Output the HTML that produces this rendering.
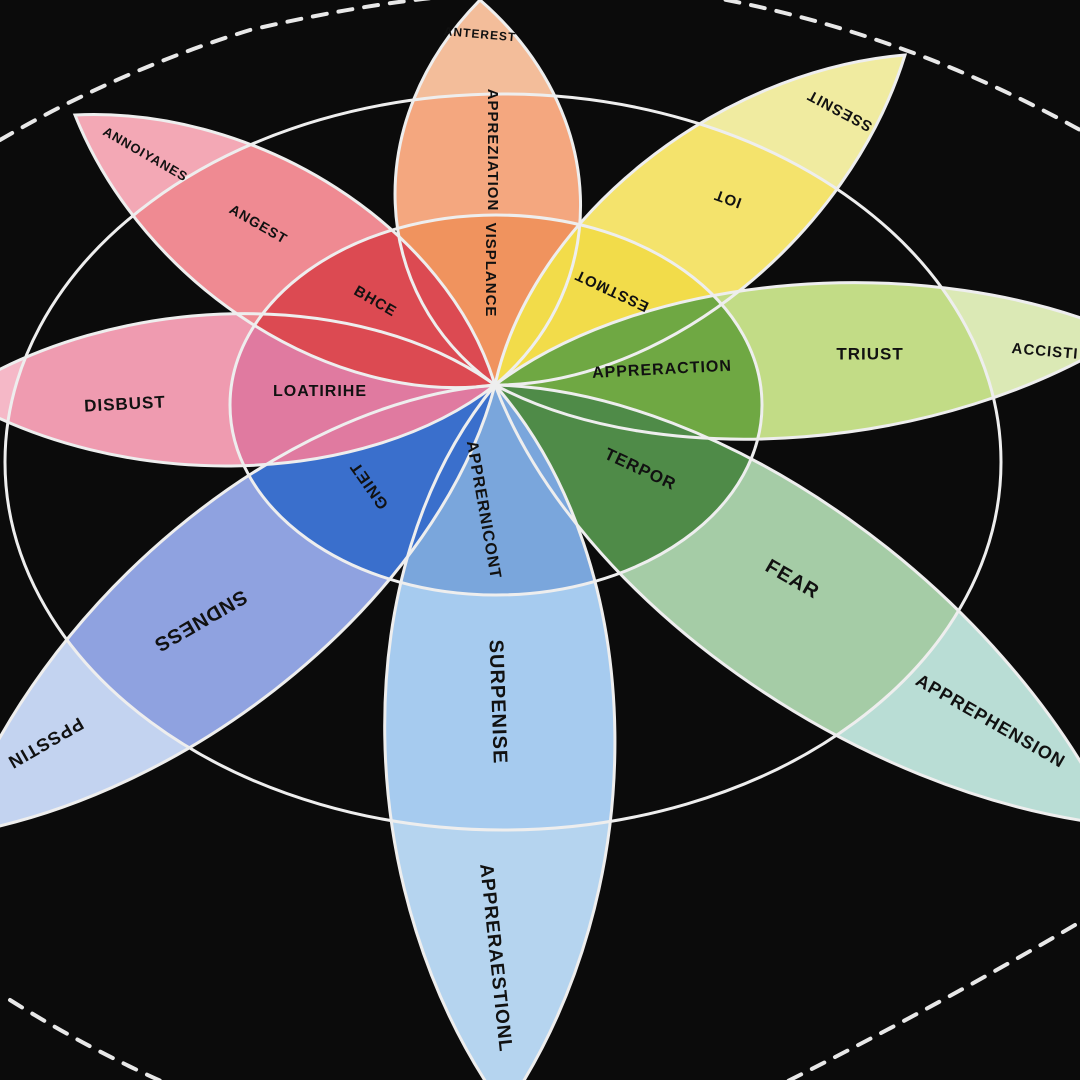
<!DOCTYPE html>
<html><head><meta charset="utf-8"><style>
html,body{margin:0;padding:0;background:#0b0b0b;}
svg{display:block}
text{font-family:"Liberation Sans",sans-serif;font-weight:bold;fill:#111;text-anchor:middle;dominant-baseline:middle;letter-spacing:1px}
</style></head><body>
<svg id="s" width="1080" height="1080" viewBox="0 0 1080 1080">
<rect width="1080" height="1080" fill="#0b0b0b"/>
<defs>
<clipPath id="cin"><ellipse cx="496" cy="405" rx="266" ry="190"/></clipPath>
<clipPath id="cout"><ellipse cx="503" cy="462" rx="498" ry="368"/></clipPath>
</defs>
<g fill="none" stroke="#e8e8e8" stroke-width="4" stroke-dasharray="14 12" stroke-linecap="round">
<path d="M0 140 Q120 70 250 30 Q380 0 470 -5"/>
<path d="M700 -5 Q900 30 1080 130"/>
<path d="M10 1000 Q90 1050 170 1085"/>
<path d="M1075 925 Q930 1010 780 1085"/>
</g>
<g id="petals"></g>
<ellipse cx="496" cy="405" rx="266" ry="190" fill="none" stroke="#eee" stroke-width="3"/>
<ellipse cx="503" cy="462" rx="498" ry="368" fill="none" stroke="#eee" stroke-width="3"/>
<g id="outl"></g>
<g font-size="15">
<text transform="translate(480,35) rotate(5)" font-size="12">ANTEREST</text>
<text transform="translate(492,150) rotate(90)">APPREZIATION</text>
<text transform="translate(490,270) rotate(90)">VISPLANCE</text>
<text transform="translate(840,110) rotate(208)">SSESNIT</text>
<text transform="translate(728,198) rotate(200)">IOT</text>
<text transform="translate(612,290) rotate(205)">ESSTMOT</text>
<text transform="translate(662,370) rotate(-3)" font-size="16">APPRERACTION</text>
<text transform="translate(870,355)" font-size="17">TRIUST</text>
<text transform="translate(1045,352) rotate(5)" font-size="15">ACCISTI</text>
<text transform="translate(640,470) rotate(25)" font-size="17">TERPOR</text>
<text transform="translate(792,580) rotate(30)" font-size="20">FEAR</text>
<text transform="translate(990,722) rotate(30)" font-size="18">APPREPHENSION</text>
<text transform="translate(483,510) rotate(80)" font-size="16">APPRERNICONT</text>
<text transform="translate(497,702) rotate(88)" font-size="20">SURPENISE</text>
<text transform="translate(495,958) rotate(84)" font-size="19">APPRERAESTIONL</text>
<text transform="translate(370,485) rotate(-125)" font-size="16">GNIET</text>
<text transform="translate(200,620) rotate(150)" font-size="20">SNDNESS</text>
<text transform="translate(45,742) rotate(150)" font-size="18">PPSSTIN</text>
<text transform="translate(125,405) rotate(-3)" font-size="17">DISBUST</text>
<text transform="translate(320,392)" font-size="16">LOATIRIHE</text>
<text transform="translate(375,302) rotate(30)" font-size="15">BHCE</text>
<text transform="translate(258,225) rotate(30)" font-size="14">ANGEST</text>
<text transform="translate(145,155) rotate(30)" font-size="13">ANNOIYANES</text>
</g>
</svg>
<script>
var C=[495,385];
var P=[
 [[480,0],95,['#f0935e','#f4a77f','#f3bd9a']],
 [[905,55],82,['#f2dc4a','#f4e36c','#f0eba0']],
 [[1125,335],78,['#6fa843','#c2dc86','#dbe9b5']],
 [[1115,825],98,['#4f8b48','#a5cca6','#b9ddd5']],
 [[505,1110],118,['#7aa6dc','#a6cbef','#b5d4ef']],
 [[-45,835],96,['#3a6fcc','#8fa2e0','#c3d3f0']],
 [[-45,395],78,['#e07aa0','#ef9bb0','#f5b8c7']],
 [[75,115],82,['#dc4a52','#ef8a92','#f3a8b5']]
];
var ns='http://www.w3.org/2000/svg',g=document.getElementById('petals'),o=document.getElementById('outl');
function el(t,a,p){var e=document.createElementNS(ns,t);for(var k in a)e.setAttribute(k,a[k]);p.appendChild(e);return e;}
P.forEach(function(p){
 var T=p[0],w=p[1]*1.3,dx=T[0]-C[0],dy=T[1]-C[1],L=Math.hypot(dx,dy),ux=dx/L,uy=dy/L,nx=-uy,ny=ux;
 function pt(a,b){return (C[0]+ux*a+nx*b).toFixed(1)+' '+(C[1]+uy*a+ny*b).toFixed(1);}
 var d='M'+pt(0,0)+' C'+pt(L*0.25,w)+' '+pt(L*0.7,w)+' '+pt(L,0)+' C'+pt(L*0.7,-w)+' '+pt(L*0.25,-w)+' '+pt(0,0)+'Z';
 el('path',{d:d,fill:p[2][2]},g);
 el('path',{d:d,fill:p[2][1],'clip-path':'url(#cout)'},g);
 el('path',{d:d,fill:p[2][0],'clip-path':'url(#cin)'},g);
 el('path',{d:d,fill:'none',stroke:'#eee','stroke-width':3},o);
});
</script>
</body></html>
